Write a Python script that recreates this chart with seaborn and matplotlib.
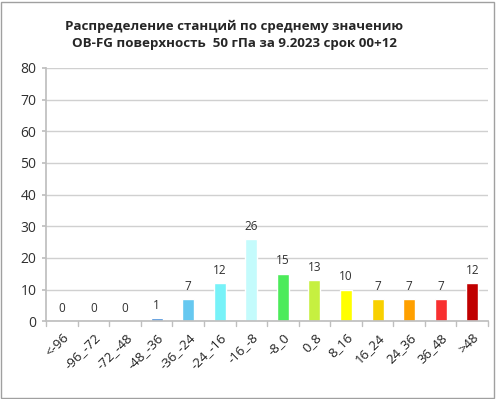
import matplotlib
matplotlib.use("Agg")
import matplotlib.pyplot as plt
import seaborn as sns
import pandas as pd
import numpy as np

categories = ["<-96", "-96_-72", "-72_-48", "-48_-36", "-36_-24", "-24_-16", "-16_-8",
              "-8_0", "0_8", "8_16", "16_24", "24_36", "36_48", ">48"]
values = [0, 0, 0, 1, 7, 12, 26, 15, 13, 10, 7, 7, 7, 12]
colors = ["#1f4e9e", "#2f6fc0", "#3a80d0", "#4a90d9", "#66c8f0", "#77f2f8", "#c4fbfc",
          "#4ceb5a", "#c6f040", "#ffff00", "#f8d000", "#ffa000", "#f83030", "#c00000"]
title = "Распределение станций по среднему значению\nOB-FG поверхность  50 гПа за 9.2023 срок 00+12"

sns.set_theme(style="white")
plt.rcParams['font.family'] = ['Open Sans', 'DejaVu Sans']

df = pd.DataFrame({"cat": categories, "val": values})

fig = plt.figure(figsize=(4.96, 3.99), dpi=100)
ax = fig.add_axes([0.093, 0.195, 0.891, 0.635])
sns.barplot(data=df, x="cat", y="val", hue="cat", palette=colors, legend=False,
            width=0.38, ax=ax, saturation=1)

ax.set_ylim(0, 80)
ax.set_xlim(-0.5, len(categories) - 0.5)
ax.set_yticks(range(0, 81, 10))
ax.yaxis.grid(True, color="#d0d0d0", linewidth=1)
ax.set_axisbelow(True)
ax.set_xlabel("")
ax.set_ylabel("")
for s in ["top", "right"]:
    ax.spines[s].set_visible(False)
for s in ["left", "bottom"]:
    ax.spines[s].set_color("#bfbfbf")
ax.tick_params(axis="y", labelsize=10, colors="#303030", length=3, left=True, color="#bfbfbf", pad=4)
ax.set_xticks(np.arange(len(categories)))
ax.set_xticklabels(categories, rotation=45, ha="right", rotation_mode="anchor", fontsize=9.5, color="#202020")
ax.tick_params(axis="x", length=0, pad=7)
for b in np.arange(-0.5, len(categories) + 0.5, 1):
    ax.plot([b, b], [0, -1.5], color="#bfbfbf", lw=1, clip_on=False)

for i, v in enumerate(values):
    ax.text(i, v + 2, str(v), ha="center", va="bottom", fontsize=8.5, color="#303030")

fig.text(0.472, 0.912, title, ha="center", va="center", fontsize=9.6, fontweight="bold",
         linespacing=1.45)
fig.patches.append(plt.Rectangle((0.002, 0.002), 0.994, 0.994, transform=fig.transFigure,
                                 fill=False, edgecolor="#a0a0a0", linewidth=1))
fig.savefig("out.png", dpi=100)
